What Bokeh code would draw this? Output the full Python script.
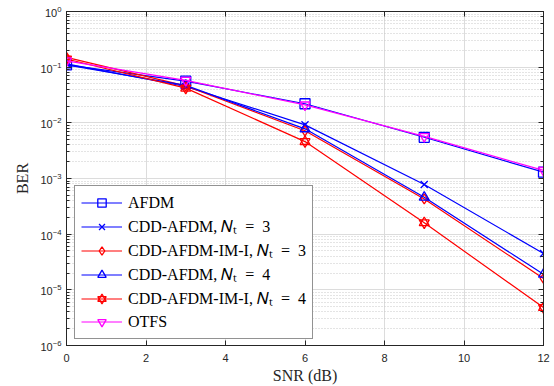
from bokeh.plotting import figure
from bokeh.models import (Range1d, LogAxis, LinearAxis, Legend, LegendItem, FixedTicker, LogTicker,
                          CustomLabelingPolicy)
from bokeh.embed import file_html
from bokeh.resources import INLINE

snr = [0, 3, 6, 9, 12]
afdm = [0.11, 0.056, 0.022, 0.0055, 0.0013]
cdd_nt3 = [0.115, 0.045, 0.0092, 0.00078, 4.5e-5]
cdd_im_nt3 = [0.15, 0.046, 0.0072, 0.00043, 1.6e-5]
cdd_nt4 = [0.11, 0.047, 0.0078, 0.00046, 1.9e-5]
cdd_im_nt4 = [0.14, 0.042, 0.0046, 0.00016, 4.8e-6]
otfs = [0.13, 0.058, 0.021, 0.0057, 0.0014]
x_ticks = [0, 2, 4, 6, 8, 10, 12]

NT = "\U0001D441\u209C\u2002=\u2002"
labels = ["AFDM", "CDD-AFDM, " + NT + "3", "CDD-AFDM-IM-I, " + NT + "3",
          "CDD-AFDM, " + NT + "4", "CDD-AFDM-IM-I, " + NT + "4", "OTFS"]

BLUE = "#0000ff"
RED = "#ff0000"
MAG = "#ff00ff"
TICK_FONT = "Liberation Sans"
SERIF = "Liberation Serif"
AX = "#262626"

p = figure(width=554, height=386, y_axis_type="log", output_backend="svg", toolbar_location=None,
           x_range=Range1d(0, 12), y_range=Range1d(1e-6, 1),
           min_border_left=66, min_border_right=11, min_border_top=11, min_border_bottom=41)
p.outline_line_color = AX
p.outline_line_width = 1

p.xaxis.ticker = FixedTicker(ticks=x_ticks)
p.xaxis.axis_label = "SNR (dB)"
p.yaxis.axis_label = "BER"
for ax in [p.xaxis[0], p.yaxis[0]]:
    ax.axis_label_text_font = SERIF
    ax.axis_label_text_font_style = "normal"
    ax.axis_label_text_font_size = "16px"
    ax.axis_label_text_color = AX
    ax.major_label_text_font = TICK_FONT
    ax.major_label_text_font_size = "11px"
    ax.major_label_text_color = AX
    ax.major_tick_in = 5
    ax.major_tick_out = 0
    ax.minor_tick_in = 3
    ax.minor_tick_out = 0
    ax.axis_line_color = AX
    ax.major_tick_line_color = AX
    ax.minor_tick_line_color = AX
p.xaxis.minor_tick_line_color = None
p.xaxis.major_label_standoff = 8
p.yaxis.major_label_standoff = 5
p.xaxis.axis_label_standoff = 2
p.yaxis.axis_label_standoff = 6

hide = "const a = [...indices]; for (const i of a) indices.unset(i); return indices"

# right and top box axes (ticks only)
ra = LogAxis(ticker=LogTicker())
ra.major_label_text_font_size = "1px"
ra.major_label_policy = CustomLabelingPolicy(code=hide)
ra.major_tick_in = 5; ra.major_tick_out = 0; ra.minor_tick_in = 3; ra.minor_tick_out = 0
ra.major_label_standoff = 0
ra.axis_line_color = AX; ra.major_tick_line_color = AX; ra.minor_tick_line_color = AX
p.add_layout(ra, "right")
ta = LinearAxis(ticker=FixedTicker(ticks=x_ticks))
ta.major_label_text_font_size = "1px"
ta.major_label_policy = CustomLabelingPolicy(code=hide)
ta.major_tick_in = 5; ta.major_tick_out = 0; ta.minor_tick_line_color = None
ta.major_label_standoff = 0
ta.axis_line_color = AX; ta.major_tick_line_color = AX
p.add_layout(ta, "above")

p.xgrid.ticker = FixedTicker(ticks=x_ticks)
p.xgrid.grid_line_color = "#dcdcdc"
p.ygrid.grid_line_color = "#dcdcdc"
p.ygrid.minor_grid_line_color = "#c8c8c8"
p.ygrid.minor_grid_line_dash = "1 2"

items = []
def series(y, color, label, markers):
    rs = [p.line(snr, y, line_color=color, line_width=1.2)]
    for m in markers:
        rs.append(p.scatter(snr, y, marker=m, size=10, line_color=color, fill_color=None, line_width=1.3))
    items.append(LegendItem(label=label, renderers=rs))

series(afdm, BLUE, labels[0], ["square"])
series(cdd_nt3, BLUE, labels[1], ["x"])
series(cdd_im_nt3, RED, labels[2], ["diamond"])
series(cdd_nt4, BLUE, labels[3], ["triangle"])
series(cdd_im_nt4, RED, labels[4], ["triangle", "inverted_triangle"])
series(otfs, MAG, labels[5], ["inverted_triangle"])

leg = Legend(items=items, location=(8, 6))
leg.label_text_font = SERIF
leg.label_text_font_size = "16px"
leg.label_text_color = "#000000"
leg.glyph_width = 41
leg.glyph_height = 21
leg.label_height = 21
leg.label_standoff = 6
leg.spacing = 2
leg.padding = 6
leg.margin = 0
leg.border_line_color = AX
leg.border_line_width = 1
leg.background_fill_alpha = 1
p.add_layout(leg, "center")

open("out.html", "w").write(file_html(p, INLINE))
